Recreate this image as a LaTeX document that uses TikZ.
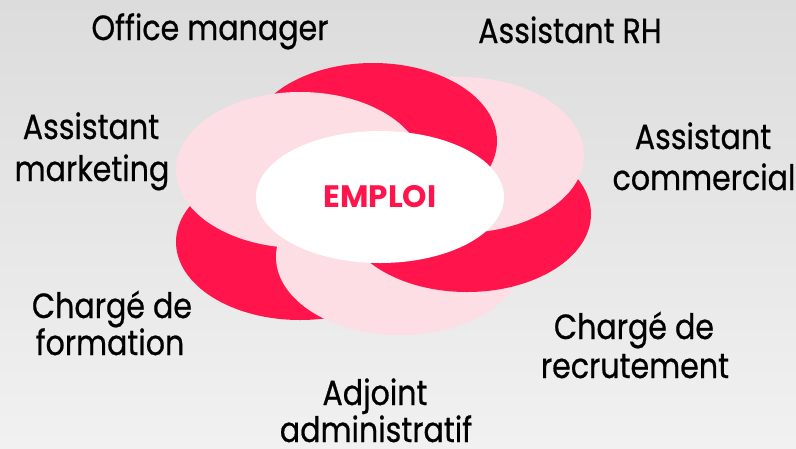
\documentclass[tikz,border=0pt]{standalone}
\usepackage{fontspec}
\setmainfont[FakeStretch=0.86,FakeBold=0.6]{Poppins}
\newfontfamily\emplfont{Poppins}
\usetikzlibrary{shapes.geometric}
\definecolor{rouge}{RGB}{255,20,75}
\definecolor{rose}{RGB}{252,222,228}
\definecolor{bgtop}{RGB}{220,220,220}
\definecolor{bgbot}{RGB}{241,241,241}
\tikzset{
  petal/.style={ellipse, inner sep=0pt, minimum width=248pt, minimum height=156pt, draw=none},
  redpetal/.style={petal, fill=rouge},
  pinkpetal/.style={petal, fill=rose},
  label/.style={anchor=base, inner sep=0pt, text=black, font=\fontsize{35}{40}\selectfont},
  core/.style={ellipse, inner sep=0pt, minimum width=248pt, minimum height=132pt, fill=white, draw=none},
}
\begin{document}
\begin{tikzpicture}[x=1pt,y=-1pt]
\shade[top color=bgtop, bottom color=bgbot] (0,0) rectangle (796,448);
\useasboundingbox (0,0) rectangle (796,448);
% petals, bottom layer first
\node[redpetal]  (redL)  at (300,242) {};
\node[pinkpetal] (pinkB) at (400,257) {};
\node[redpetal]  (redR)  at (467,214) {};
\node[pinkpetal] (pinkR) at (460,155) {};
\node[redpetal]  (redT)  at (373,141) {};
\node[pinkpetal] (pinkL) at (300,170) {};
\node[core] (center) at (380,197) {};
\node[anchor=base, inner sep=0pt, text=rouge, font=\emplfont\fontsize{31}{34}\selectfont\bfseries] (emploi) at (380,207) {EMPLOI};
% labels
\node[label] (om)  at (210,40)  {Office manager};
\node[label] (rh)  at (570,43)  {Assistant RH};
\node[label] (am1) at (91,139)  {Assistant};
\node[label] (am2) at (92,181)  {marketing};
\node[label] (ac1) at (703,149) {Assistant};
\node[label] (ac2) at (704,190) {commercial};
\node[label] (cf1) at (112,318) {Chargé de};
\node[label] (cf2) at (110,355) {formation};
\node[label] (cr1) at (634,339) {Chargé de};
\node[label] (cr2) at (635,378) {recrutement};
\node[label] (ad1) at (375,405) {Adjoint};
\node[label] (ad2) at (376,442) {administratif};
\end{tikzpicture}
\end{document}
